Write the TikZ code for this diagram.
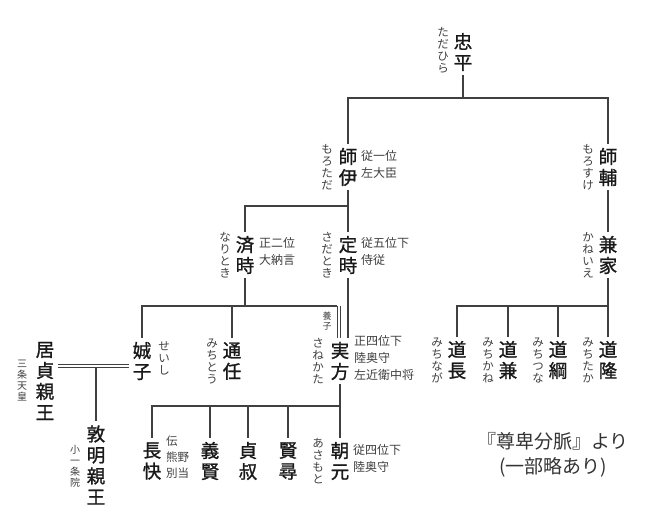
\documentclass[tikz,border=0pt]{standalone}
\usepackage{fontspec}
\newfontfamily\jp{Noto Sans CJK JP}
\newfontfamily\jpb[FakeBold=1.2]{Noto Sans CJK JP}
\begin{document}
\begin{tikzpicture}[x=1pt,y=-1pt,
  nm/.style={font=\jpb\fontsize{18.5}{21}\selectfont,align=center,inner sep=4pt,text=black!90},
  rb/.style={font=\jp\fontsize{11.5}{12}\selectfont,align=center,inner sep=0pt,text=black!75},
  an/.style={font=\jp\fontsize{12}{17}\selectfont,align=left,inner sep=0pt,text=black!75,anchor=north west},
  ln/.style={draw=black!75,line width=1.1pt},
  dl/.style={draw=black!75,line width=0.7pt,double,double distance=2.4pt}]
\useasboundingbox (0,0) rectangle (650,524);
\fill[white] (0,0) rectangle (650,524);
% levels
\coordinate (b1) at (0,98);
\coordinate (b2) at (0,206);
\coordinate (b3) at (0,306);
\coordinate (b4) at (0,406);
% names
\node[nm] (tadahira) at (463,52) {忠\\平};
\node[rb] at (443,50) {た\\だ\\ひ\\ら};
\node[nm] (morotada) at (348,167) {師\\伊};
\node[rb] at (327,167) {も\\ろ\\た\\だ};
\node[an] at (361,150) {従一位\\左大臣};
\node[nm] (morosuke) at (608,167) {師\\輔};
\node[rb] at (588,167) {も\\ろ\\す\\け};
\node[nm] (naritoki) at (245,255) {済\\時};
\node[rb] at (225,255) {な\\り\\と\\き};
\node[an] at (259,237) {正二位\\大納言};
\node[nm] (sadatoki) at (348,255) {定\\時};
\node[rb] at (327,255) {さ\\だ\\と\\き};
\node[an] at (361,237) {従五位下\\侍従};
\node[nm] (kaneie) at (608,255) {兼\\家};
\node[rb] at (588,255) {か\\ね\\い\\え};
\node[nm] (seishi) at (142,361) {娍\\子};
\node[rb] at (164,358) {せ\\い\\し};
\node[nm] (michito) at (232,361) {通\\任};
\node[rb] at (212,361) {み\\ち\\と\\う};
\node[nm] (sanekata) at (340,361) {実\\方};
\node[rb] at (318,361) {さ\\ね\\か\\た};
\node[rb,font=\jp\fontsize{9}{10}\selectfont] at (327,321) {養\\子};
\node[an] at (354,335) {正四位下\\陸奥守\\左近衛中将};
\node[nm] (iyasada) at (45,381) {居\\貞\\親\\王};
\node[rb,font=\jp\fontsize{10}{11}\selectfont] at (22,381) {三\\条\\天\\皇};
\node[nm] (atsuakira) at (96,465) {敦\\明\\親\\王};
\node[rb,font=\jp\fontsize{10}{11}\selectfont] at (75,466) {小\\一\\条\\院};
\node[nm] (chokai) at (152,461) {長\\快};
\node[an,font=\jp\fontsize{11.5}{16}\selectfont] at (166,436) {伝\\熊野\\別当};
\node[nm] (yoshikata) at (210,461) {義\\賢};
\node[nm] (teishuku) at (248,461) {貞\\叔};
\node[nm] (kenjin) at (288,461) {賢\\尋};
\node[nm] (asamoto) at (340,461) {朝\\元};
\node[rb] at (318,461) {あ\\さ\\も\\と};
\node[an] at (353,444) {従四位下\\陸奥守};
\node[nm] (michinaga) at (457,360) {道\\長};
\node[rb] at (437,360) {み\\ち\\な\\が};
\node[nm] (michikane) at (508,360) {道\\兼};
\node[rb] at (488,360) {み\\ち\\か\\ね};
\node[nm] (michitsuna) at (558,360) {道\\綱};
\node[rb] at (538,360) {み\\ち\\つ\\な};
\node[nm] (michitaka) at (608,360) {道\\隆};
\node[rb] at (588,360) {み\\ち\\た\\か};
\node[font=\jp\fontsize{19}{25}\selectfont,align=center,text=black!80] (cap) at (553,455) {『尊卑分脈』より\\(一部略あり)};
% connectors
\draw[ln] (tadahira.south) -- (tadahira|-b1);
\draw[ln] (morotada.north) |- (tadahira|-b1);
\draw[ln] (morosuke.north) |- (tadahira|-b1);
\draw[ln] (morotada.south) -- (morotada|-b2);
\draw[ln] (naritoki.north) |- (morotada|-b2);
\draw[ln] (sadatoki.north) -- (morotada|-b2);
\draw[ln] (morosuke.south) -- (kaneie.north);
\draw[ln] (naritoki.south) -- (naritoki|-b3);
\draw[ln] (seishi.north) |- (337,306);
\draw[ln] (michito.north) -- (michito|-b3);
\draw[dl] (339,306) -- (sanekata.north-|339,0);
\draw[ln] (sadatoki.south) -- (sadatoki.south|-sanekata.north);
\draw[ln] (kaneie.south) -- (kaneie|-b3);
\draw[ln] (michinaga.north) |- (kaneie|-b3);
\draw[ln] (michikane.north) -- (michikane|-b3);
\draw[ln] (michitsuna.north) -- (michitsuna|-b3);
\draw[ln] (michitaka.north) -- (michitaka|-b3);
\coordinate (mar) at (96,366);
\draw[dl] (iyasada.east|-mar) -- (seishi.west|-mar);
\draw[ln] (mar) ++(0,1.5) -- (atsuakira.north);
\draw[ln] (sanekata.south) -- (asamoto.north);
\draw[ln] (chokai.north) |- (sanekata|-b4);
\draw[ln] (yoshikata.north) -- (yoshikata|-b4);
\draw[ln] (teishuku.north) -- (teishuku|-b4);
\draw[ln] (kenjin.north) -- (kenjin|-b4);
\end{tikzpicture}
\end{document}
